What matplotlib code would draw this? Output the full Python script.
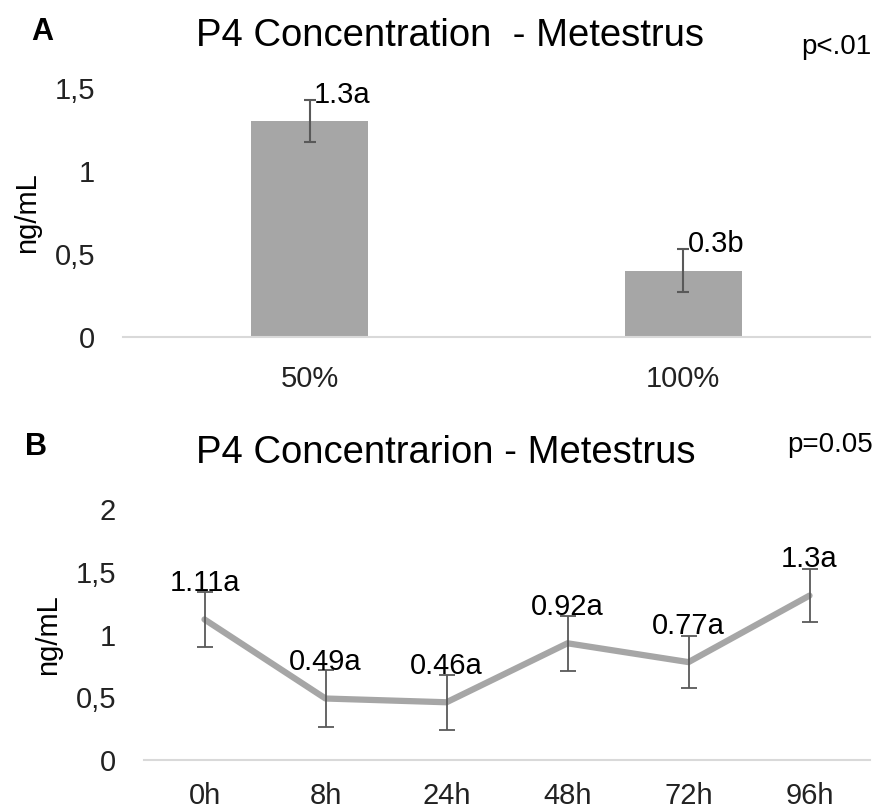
import matplotlib
matplotlib.use('Agg')
import matplotlib.pyplot as plt

plt.rcParams['font.family'] = ['Liberation Sans', 'DejaVu Sans']

# panel A
dose_cats = ['50%', '100%']
dose_vals = [1.30, 0.40]
dose_err = [0.125, 0.128]
dose_labels = ['1.3a', '0.3b']

# panel B
time_cats = ['0h', '8h', '24h', '48h', '72h', '96h']
time_vals = [1.12, 0.49, 0.46, 0.93, 0.78, 1.31]
time_err = [0.22, 0.23, 0.22, 0.22, 0.21, 0.21]
time_labels = ['1.11a', '0.49a', '0.46a', '0.92a', '0.77a', '1.3a']

W, H = 882, 811
fig = plt.figure(figsize=(W / 100, H / 100), dpi=100)

def px_axes(x0, y_top, x1, y_bot):
    return fig.add_axes([x0 / W, 1 - y_bot / H, (x1 - x0) / W, (y_bot - y_top) / H])

def style(ax, xpad):
    for s in ['top', 'right', 'left']:
        ax.spines[s].set_visible(False)
    ax.spines['bottom'].set_color('#d9d9d9')
    ax.spines['bottom'].set_linewidth(1.5)
    ax.tick_params(axis='both', length=0, labelsize=21, colors='#222222')
    ax.tick_params(axis='y', pad=20)
    ax.tick_params(axis='x', pad=xpad)

def comma_fmt(v, _):
    return f'{v:g}'.replace('.', ',')

# ---- A
axA = px_axes(123, 88, 870, 337)
xa = list(range(len(dose_cats)))
axA.bar(xa, dose_vals, width=0.313, color='#a6a6a6', zorder=2)
axA.errorbar(xa, dose_vals, yerr=dose_err, fmt='none', ecolor='#595959',
             elinewidth=1.5, capsize=4, capthick=1.5, zorder=3)
for x, v, e, lab in zip(xa, dose_vals, dose_err, dose_labels):
    axA.annotate(lab, (x, v + e), xytext=(3, 4), textcoords='offset points',
                 ha='left', va='center', fontsize=21)
axA.set_xlim(-0.5, 1.5)
axA.set_ylim(0, 1.5)
axA.set_yticks([0, 0.5, 1, 1.5])
axA.yaxis.set_major_formatter(plt.FuncFormatter(comma_fmt))
axA.set_xticks(xa)
axA.set_xticklabels(dose_cats)
style(axA, 20)
axA.set_ylabel('ng/mL', fontsize=21, labelpad=10)

# ---- B
axB = px_axes(144, 509, 870, 760)
xb = list(range(len(time_cats)))
axB.plot(xb, time_vals, color='#a6a6a6', lw=4.5, solid_capstyle='round', zorder=2)
axB.errorbar(xb, time_vals, yerr=time_err, fmt='none', ecolor='#595959',
             elinewidth=1.3, capsize=6, capthick=1.3, zorder=3)
for x, v, lab in zip(xb, time_vals, time_labels):
    axB.annotate(lab, (x, v), xytext=(0, 26), textcoords='offset points',
                 ha='center', va='center', fontsize=21)
axB.set_xlim(-0.5, 5.5)
axB.set_ylim(0, 2)
axB.set_yticks([0, 0.5, 1, 1.5, 2])
axB.yaxis.set_major_formatter(plt.FuncFormatter(comma_fmt))
axB.set_xticks(xb)
axB.set_xticklabels(time_cats)
style(axB, 16)
axB.set_ylabel('ng/mL', fontsize=21, labelpad=10)

# titles and panel letters
fig.text(450 / W, 1 - 36 / H, 'P4 Concentration  - Metestrus', ha='center', va='center', fontsize=27.5)
fig.text(446 / W, 1 - 453 / H, 'P4 Concentrarion - Metestrus', ha='center', va='center', fontsize=27.5)
fig.text(42 / W, 1 - 32 / H, 'A', ha='center', va='center', fontsize=22, fontweight='bold')
fig.text(36 / W, 1 - 447 / H, 'B', ha='center', va='center', fontsize=22, fontweight='bold')
fig.text(836 / W, 1 - 47 / H, 'p<.01', ha='center', va='center', fontsize=20)
fig.text(830 / W, 1 - 445 / H, 'p=0.05', ha='center', va='center', fontsize=20)

fig.savefig('out.png', dpi=100, facecolor='white')
